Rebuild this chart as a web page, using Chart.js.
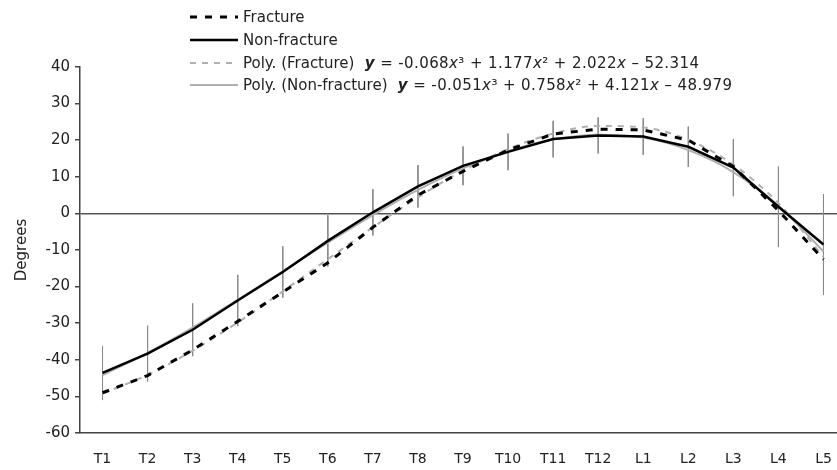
<!DOCTYPE html>
<html>
<head>
<meta charset="utf-8">
<script src="https://cdn.jsdelivr.net/npm/chart.js@4"></script>
<style>
  html, body { margin: 0; padding: 0; background: #fff; overflow: hidden; }
  #wrap { position: relative; width: 837px; height: 470px; }
  #legend { position: absolute; left: 0; top: 0; font-family: "DejaVu Sans", sans-serif; font-size: 15px; color: #222; }
  .row { position: absolute; left: 190px; height: 20px; display: flex; align-items: center; white-space: nowrap; }
  .row svg { width: 48px; height: 8px; margin-right: 5px; }
  .eq { letter-spacing: 0.4px; }
  .eq i { font-style: italic; }
</style>
</head>
<body>
<div id="wrap">
  <canvas id="c" width="837" height="470"></canvas>
  <div id="legend"></div>
</div>
<script>
// ---- data ----
const categories = ['T1','T2','T3','T4','T5','T6','T7','T8','T9','T10','T11','T12','L1','L2','L3','L4','L5'];
const fracture    = [-49.0,-44.3,-37.3,-29.5,-21.5,-13.5,-3.8, 5.0,11.5,17.3,21.7,23.0,22.8,20.0,12.8, 0.8,-12.6];
const nonFracture = [-43.6,-38.3,-31.8,-23.8,-16.0,-7.5, 0.3, 7.4,13.0,16.8,20.3,21.3,21.0,18.2,12.5, 1.8, -8.5];
const polyFracture    = [-49.2,-44.1,-37.5,-29.8,-21.3,-12.5,-3.8, 4.4,11.7,17.6,21.8,23.9,23.5,20.1,13.3, 2.8,-11.9];
const polyNonFracture = [-44.2,-38.1,-31.2,-23.6,-15.8,-8.0,-0.5, 6.4,12.3,17.0,20.2,21.5,20.7,17.3,11.3, 2.1,-10.4];
const errNonFracture  = [7.4, 7.6, 7.2, 7.0, 7.0, 7.0, 6.3, 5.8, 5.3, 5.0, 5.0, 4.9, 5.0, 5.5, 7.8, 11.0, 13.8];
const yTicks = [40,30,20,10,0,-10,-20,-30,-40,-50,-60];
const seriesNames = ['Fracture','Non-fracture','Poly. (Fracture)','Poly. (Non-fracture)'];
const equations = [
  null, null,
  '<b><i>y</i></b> = -0.068<i>x</i>³ + 1.177<i>x</i>² + 2.022<i>x</i> – 52.314',
  '<b><i>y</i></b> = -0.051<i>x</i>³ + 0.758<i>x</i>² + 4.121<i>x</i> – 48.979'
];

const pts = arr => arr.map((v, i) => ({x: i + 1, y: v}));
const errPts = [];
nonFracture.forEach((v, i) => {
  errPts.push({x: i + 1, y: v + errNonFracture[i]});
  errPts.push({x: i + 1, y: v - errNonFracture[i]});
  errPts.push({x: i + 1, y: null});
});

const styles = [
  {color: '#000', width: 3, dash: [7, 8]},
  {color: '#000', width: 2.5, dash: []},
  {color: '#b0b0b0', width: 2, dash: [6, 6]},
  {color: '#b0b0b0', width: 2, dash: []}
];

// legend (HTML, real text)
const leg = document.getElementById('legend');
const rowY = [17, 40, 63, 85];
seriesNames.forEach((n, i) => {
  const s = styles[i];
  const d = document.createElement('div');
  d.className = 'row';
  d.style.top = (rowY[i] - 10) + 'px';
  d.innerHTML = '<svg viewBox="0 0 48 8"><line x1="0" y1="4" x2="48" y2="4" stroke="' + s.color +
    '" stroke-width="' + s.width + '" stroke-dasharray="' + (s.dash.length ? s.dash.join(',') : 'none') + '"/></svg>' +
    '<span>' + n + '</span>' + (equations[i] ? '<span class="eq">&nbsp; ' + equations[i] + '</span>' : '');
  leg.appendChild(d);
});

const FONT = '"DejaVu Sans", sans-serif';
new Chart(document.getElementById('c'), {
  type: 'line',
  data: {
    datasets: [
      {label: 'err', data: errPts, borderColor: '#8a8a8a', borderWidth: 1, pointRadius: 0, spanGaps: false, order: 5},
      {label: seriesNames[2], data: pts(polyFracture), borderColor: styles[2].color, borderWidth: styles[2].width, borderDash: styles[2].dash, pointRadius: 0, cubicInterpolationMode: 'monotone', order: 4},
      {label: seriesNames[3], data: pts(polyNonFracture), borderColor: styles[3].color, borderWidth: styles[3].width, pointRadius: 0, cubicInterpolationMode: 'monotone', order: 3},
      {label: seriesNames[0], data: pts(fracture), borderColor: styles[0].color, borderWidth: styles[0].width, borderDash: styles[0].dash, pointRadius: 0, tension: 0, order: 2},
      {label: seriesNames[1], data: pts(nonFracture), borderColor: styles[1].color, borderWidth: styles[1].width, pointRadius: 0, tension: 0, order: 1}
    ]
  },
  options: {
    responsive: false,
    animation: false,
    devicePixelRatio: 1,
    layout: {padding: {top: 67, left: 0, right: 0, bottom: 0}},
    plugins: {legend: {display: false}, tooltip: {enabled: false}},
    scales: {
      x: {
        type: 'linear', min: 0.5, max: 17.3,
        afterBuildTicks: s => { s.ticks = categories.map((_, i) => ({value: i + 1})); },
        afterFit: s => { s.height = 37; s.paddingLeft = 0; s.paddingRight = 0; },
        grid: {display: true, drawOnChartArea: false, drawTicks: true, tickLength: 18, tickColor: 'rgba(0,0,0,0)'},
        border: {display: true, color: '#444', width: 1.5},
        ticks: {padding: 0, color: '#222', font: {family: FONT, size: 14}, autoSkip: false, maxRotation: 0,
          callback: v => categories[v - 1] || ''}
      },
      y: {
        min: -60, max: 40,
        afterBuildTicks: s => { s.ticks = yTicks.map(v => ({value: v})); },
        afterFit: s => { s.width = 80; },
        grid: {drawOnChartArea: true, drawTicks: true, tickLength: 5, tickColor: '#444',
          color: c => (c.tick && c.tick.value === 0) ? '#555' : 'rgba(0,0,0,0)', lineWidth: 1.5},
        border: {display: true, color: '#444', width: 1.5},
        ticks: {padding: 5, color: '#222', font: {family: FONT, size: 15}},
        title: {display: true, text: 'Degrees', color: '#222', font: {family: FONT, size: 15}, padding: {top: 13, bottom: 0}}
      }
    }
  }
});
</script>
</body>
</html>
